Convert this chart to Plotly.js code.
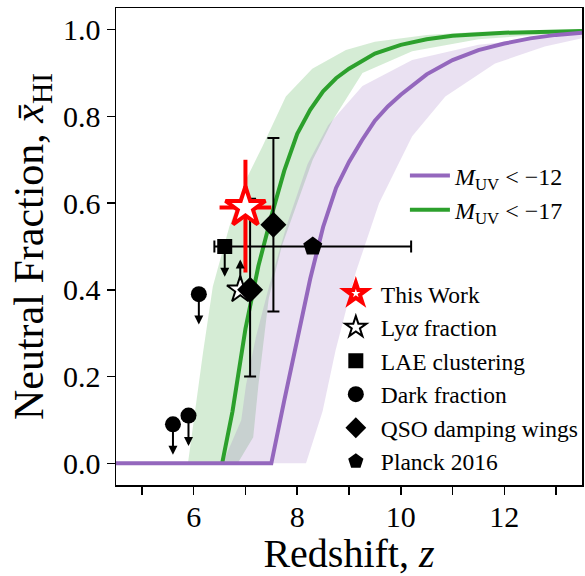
<!DOCTYPE html>
<html>
<head>
<meta charset="utf-8">
<script src="https://cdn.plot.ly/plotly-3.0.1.min.js"></script>
<style>
  html, body { margin: 0; padding: 0; background: #fff; }
  #chart { width: 585px; height: 576px; }
</style>
</head>
<body>
<div id="chart"></div>
<script>
// Reionization history: mean neutral fraction vs redshift

// Model curves
const faintZ = [4.5, 7.5, 7.75, 8.0, 8.25, 8.5, 8.75, 9.0, 9.25, 9.5, 9.75, 10.0, 10.5, 11.0, 11.5, 12.0, 12.5, 13.0, 13.5];
const faintX = [0, 0, 0.145, 0.29, 0.425, 0.545, 0.635, 0.695, 0.745, 0.79, 0.823, 0.85, 0.897, 0.93, 0.953, 0.968, 0.98, 0.988, 0.993];
const brightZ = [6.55, 6.75, 7.0, 7.25, 7.5, 7.75, 8.0, 8.25, 8.5, 8.75, 9.0, 9.5, 10.0, 10.5, 11.0, 12.0, 13.5];
const brightX = [0, 0.12, 0.31, 0.455, 0.57, 0.675, 0.76, 0.815, 0.858, 0.888, 0.91, 0.945, 0.965, 0.978, 0.986, 0.993, 0.997];

// Model uncertainty bands (upper / lower edges)
const brightHiZ = [5.89, 6.18, 6.37, 6.69, 7.01, 7.33, 7.78, 8.29, 8.94, 9.5, 10.5, 11.5, 13.5];
const brightHiX = [0, 0.255, 0.408, 0.546, 0.654, 0.731, 0.846, 0.91, 0.953, 0.972, 0.988, 0.995, 0.999];
const brightLoZ = [6.85, 7.15, 7.25, 7.45, 7.7, 8.0, 8.3, 8.68, 9.26, 10.22, 11.5, 13.5];
const brightLoX = [0, 0.06, 0.18, 0.38, 0.5, 0.6, 0.7, 0.79, 0.9, 0.95, 0.978, 0.995];
const faintHiZ = [6.56, 6.92, 7.01, 7.2, 7.46, 7.8, 8.2, 8.6, 9.26, 10.22, 11.5, 13.5];
const faintHiX = [0, 0.1, 0.18, 0.29, 0.41, 0.55, 0.69, 0.78, 0.87, 0.93, 0.965, 0.99];
const faintLoZ = [8.17, 8.49, 8.74, 9.13, 9.58, 10.22, 10.86, 11.82, 12.78, 13.5];
const faintLoX = [0, 0.12, 0.26, 0.44, 0.6, 0.754, 0.846, 0.922, 0.961, 0.98];

// Measurements
const thisWorkZ = [7.0], thisWorkX = [0.59], thisWorkUp = [0.11], thisWorkDn = [0.15], thisWorkZerr = [0.5];
const lyaZ = [6.9], lyaX = [0.40];                 // lower limit
const laeZ = [6.6], laeX = [0.50];                 // upper limit
const darkZ = [5.6, 5.9, 6.1], darkX = [0.09, 0.11, 0.39]; // upper limits
const qsoZ = [7.09, 7.54], qsoX = [0.40, 0.55], qsoUp = [0.21, 0.20], qsoDn = [0.20, 0.20];
const planckZ = [8.3], planckX = [0.50], planckZerr = [1.9];
const limitLen = 0.07;

// Axis ticks
const xTickVals = [5, 6, 7, 8, 9, 10, 11, 12, 13];
const xTickText = ['', '6', '', '8', '', '10', '', '12', ''];
const yTickVals = [0, 0.2, 0.4, 0.6, 0.8, 1.0];

const SERIF = 'Liberation Serif, Times New Roman, serif';
const PURPLE = '#9467bd', GREEN = '#2ca02c';

function band(hiZ, hiX, loZ, loX) {
  return { x: hiZ.concat(loZ.slice().reverse()), y: hiX.concat(loX.slice().reverse()) };
}
const bBand = band(brightHiZ, brightHiX, brightLoZ, brightLoX);
const fBand = band(faintHiZ, faintHiX, faintLoZ, faintLoX);

const traces = [
  { x: bBand.x, y: bBand.y, type: 'scatter', mode: 'lines', fill: 'toself',
    fillcolor: 'rgba(44,160,44,0.2)', line: { width: 0 }, hoverinfo: 'skip', showlegend: false },
  { x: fBand.x, y: fBand.y, type: 'scatter', mode: 'lines', fill: 'toself',
    fillcolor: 'rgba(148,103,189,0.2)', line: { width: 0 }, hoverinfo: 'skip', showlegend: false },
  { x: brightZ, y: brightX, type: 'scatter', mode: 'lines', name: '<i>M</i><sub>UV</sub> &lt; −17',
    line: { color: GREEN, width: 4 }, legend: 'legend', legendrank: 2, legendgroup: 'g2' },
  { x: faintZ, y: faintX, type: 'scatter', mode: 'lines', name: '<i>M</i><sub>UV</sub> &lt; −12',
    line: { color: PURPLE, width: 4 }, legend: 'legend', legendrank: 1, legendgroup: 'g1' },
  { x: planckZ, y: planckX, type: 'scatter', mode: 'markers', name: 'Planck 2016',
    marker: { symbol: 'pentagon', size: 20, color: '#000' },
    error_x: { type: 'data', array: planckZerr, color: '#000', thickness: 2, width: 6 },
    legend: 'legend2', legendrank: 6, legendgroup: 'p6' },
  { x: darkZ, y: darkX, type: 'scatter', mode: 'markers', name: 'Dark fraction',
    marker: { symbol: 'circle', size: 16, color: '#000' },
    legend: 'legend2', legendrank: 4, legendgroup: 'p4' },
  { x: laeZ, y: laeX, type: 'scatter', mode: 'markers', name: 'LAE clustering',
    marker: { symbol: 'square', size: 15, color: '#000' },
    legend: 'legend2', legendrank: 3, legendgroup: 'p3' },
  { x: lyaZ, y: lyaX, type: 'scatter', mode: 'markers', name: 'Ly<i>α</i> fraction',
    marker: { symbol: 'star', size: 20, color: '#fff', line: { color: '#000', width: 2 } },
    legend: 'legend2', legendrank: 2, legendgroup: 'p2' },
  { x: qsoZ, y: qsoX, type: 'scatter', mode: 'markers', name: 'QSO damping wings',
    marker: { symbol: 'diamond', size: 20, color: '#000' },
    error_y: { type: 'data', array: qsoUp, arrayminus: qsoDn, color: '#000', thickness: 2, width: 6 },
    legend: 'legend2', legendrank: 5, legendgroup: 'p5' },
  { x: thisWorkZ, y: thisWorkX, type: 'scatter', mode: 'markers', name: 'This Work',
    marker: { symbol: 'star', size: 30, color: '#fff', line: { color: '#ff0000', width: 4 } },
    error_y: { type: 'data', array: thisWorkUp, arrayminus: thisWorkDn, color: '#ff0000', thickness: 4, width: 0 },
    error_x: { type: 'data', array: thisWorkZerr, color: '#ff0000', thickness: 4, width: 0 },
    legend: 'legend2', legendrank: 1, legendgroup: 'p1' }
];

// Limit arrows
const arrows = [];
function limitArrow(z, x, dir, standoff) {
  arrows.push({ x: z, y: x + dir * limitLen, ax: z, ay: x, xref: 'x', yref: 'y', axref: 'x', ayref: 'y',
    showarrow: true, arrowhead: 2, arrowsize: 0.9, arrowwidth: 2, arrowcolor: '#000',
    startstandoff: standoff, standoff: 0, text: '' });
}
darkZ.forEach((z, i) => limitArrow(z, darkX[i], -1, 0));
laeZ.forEach((z, i) => limitArrow(z, laeX[i], -1, 0));
lyaZ.forEach((z, i) => limitArrow(z, lyaX[i], 1, 8));

const axisCommon = {
  showline: true, linecolor: '#000', linewidth: 1.5, mirror: true,
  ticks: 'outside', ticklen: 8, tickwidth: 1.5, tickcolor: '#000',
  showgrid: false, zeroline: false, automargin: false,
  tickfont: { family: SERIF, size: 30, color: '#000' }
};

const layout = {
  width: 585, height: 576,
  margin: { l: 116, r: 3, t: 8, b: 91, autoexpand: false },
  paper_bgcolor: '#fff', plot_bgcolor: '#fff',
  xaxis: Object.assign({}, axisCommon, {
    range: [4.5, 13.5], tickmode: 'array', tickvals: xTickVals, ticktext: xTickText,
    ticklabelstandoff: -4,
    title: { text: 'Redshift, <i>z</i>', font: { family: SERIF, size: 40, color: '#000' }, standoff: 6 }
  }),
  yaxis: Object.assign({}, axisCommon, {
    range: [-0.05, 1.05], tickmode: 'array', tickvals: yTickVals, tickformat: '.1f',
    title: { text: 'Neutral Fraction, <i>x\u0304</i><sub>HI</sub>', font: { family: SERIF, size: 42, color: '#000' }, standoff: 6 }
  }),
  legend: {
    x: 0.62, y: 0.695, xanchor: 'left', yanchor: 'top', traceorder: 'grouped', tracegroupgap: 0,
    itemwidth: 40,
    bgcolor: 'rgba(0,0,0,0)', font: { family: SERIF, size: 24, color: '#000' }
  },
  legend2: {
    x: 0.461, y: 0.447, xanchor: 'left', yanchor: 'top', traceorder: 'grouped', tracegroupgap: 0,
    itemwidth: 40,
    bgcolor: 'rgba(0,0,0,0)', font: { family: SERIF, size: 23.5, color: '#000' }
  },
  annotations: arrows,
  showlegend: true
};

Plotly.newPlot('chart', traces, layout, { displayModeBar: false, staticPlot: true });
</script>
</body>
</html>
